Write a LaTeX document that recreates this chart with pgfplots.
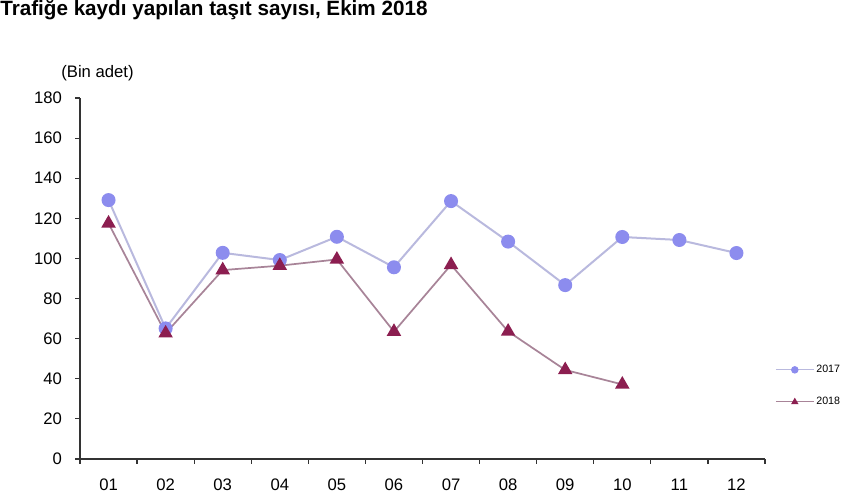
\documentclass[border=0pt]{standalone}
\usepackage{pgfplots}
\pgfplotsset{compat=1.18}
\usepackage{fontspec}
\setmainfont{Liberation Sans}
\definecolor{line17}{RGB}{185,185,222}
\definecolor{mark17}{RGB}{140,140,238}
\definecolor{line18}{RGB}{168,132,152}
\definecolor{mark18}{RGB}{140,30,80}
\begin{document}
\begin{tikzpicture}
\useasboundingbox (0,0) rectangle (649.5pt,370.5pt);
\node[anchor=base west, inner sep=0pt, font=\fontsize{15.5}{17}\selectfont\bfseries]
  at (0pt,358.5pt) {Trafiğe kaydı yapılan taşıt sayısı, Ekim 2018};
\begin{axis}[
  at={(60pt,26.25pt)}, anchor=south west,
  scale only axis, width=513.75pt, height=270.75pt,
  xmin=0.5, xmax=12.5, ymin=0, ymax=180,
  axis x line=bottom, axis y line=left,
  axis line style={-, black!80, line width=0.9pt},
  xtick={1,...,12},
  xticklabels={01,02,03,04,05,06,07,08,09,10,11,12},
  minor xtick={0.5,1.5,...,12.5},
  ytick={0,20,...,180},
  tick align=outside,
  major tick length=3.5pt, minor tick length=3.5pt,
  tick style={black!80, line width=0.9pt},
  major x tick style={draw=none},
  /pgf/number format/assume math mode=true,
  tick label style={font=\fontsize{12.5}{14}\selectfont},
  yticklabel style={xshift=-6.5pt},
  xticklabel style={yshift=-8pt},
  clip=false,
  legend style={draw=none, fill=none, at={(1,0.2025)}, anchor=west,
    xshift=7.5pt, inner sep=0pt, row sep=14pt,
    font=\fontsize{8}{9}\selectfont, nodes={inner sep=1.5pt},
    /tikz/every even column/.append style={column sep=3.5pt}},
  legend cell align=left,
  legend image code/.code={\draw[mark repeat=2, mark phase=2, mark size=2.4pt, line width=0.8pt]
    plot coordinates {(0pt,0pt) (14.25pt,0pt) (28.5pt,0pt)};},
]
\addplot[line17, line width=1.5pt, mark=*, mark size=4.5pt,
  mark options={fill=mark17, draw=mark17}] coordinates {
  (1,129.1) (2,65.1) (3,102.8) (4,99.2) (5,110.8) (6,95.6)
  (7,128.6) (8,108.4) (9,86.7) (10,110.7) (11,109.2) (12,102.7)
};
\addlegendentry{2017}
\addplot[line18, line width=1.3pt, mark=triangle*, mark size=5pt,
  mark options={fill=mark18, draw=mark18}] coordinates {
  (1,117.5) (2,62.7) (3,94.2) (4,96.4) (5,99.5) (6,63.5)
  (7,96.8) (8,63.6) (9,44.4) (10,37.2)
};
\addlegendentry{2018}
\end{axis}
\node[font=\fontsize{12.5}{14}\selectfont] at (73.1pt,315.75pt) {(Bin adet)};
\end{tikzpicture}
\end{document}
